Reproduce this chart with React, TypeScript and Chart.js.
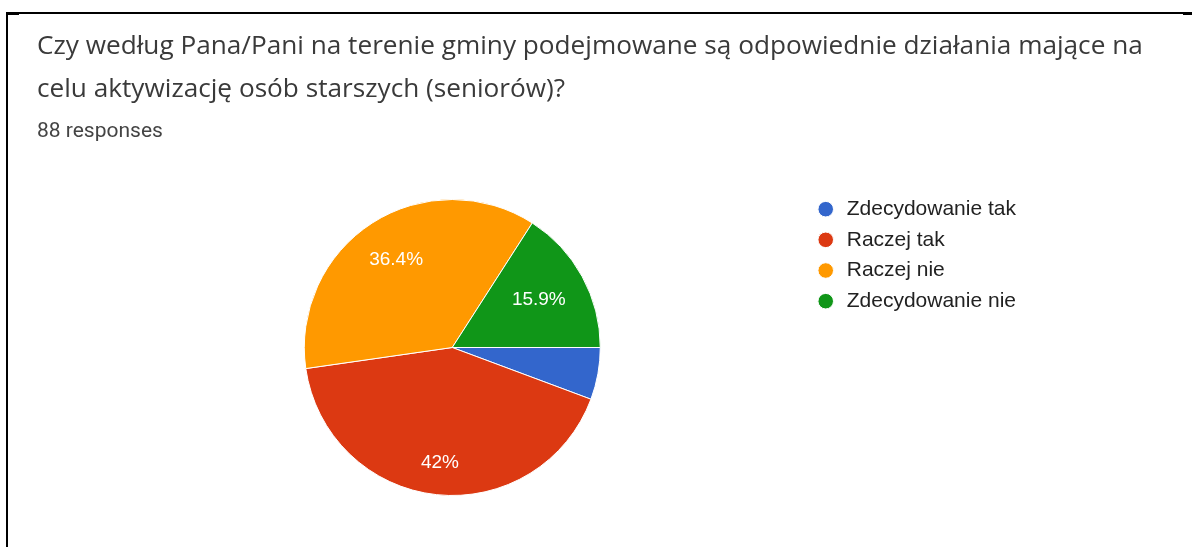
import React, { useEffect, useRef } from "react";
import { Chart, registerables } from "chart.js";

Chart.register(...registerables);

const titleLines = [
  "Czy według Pana/Pani na terenie gminy podejmowane są odpowiednie działania mające na",
  "celu aktywizację osób starszych (seniorów)?",
];
const responsesText = "88 responses";
const categories = ["Zdecydowanie tak", "Raczej tak", "Raczej nie", "Zdecydowanie nie"];
const counts = [5, 37, 32, 14];
const sliceColors = ["#3366cc", "#dc3912", "#ff9900", "#109618"];

// Places each percentage so the outermost corner of its text box sits at a
// fixed fraction of the radius along the slice's middle angle.
const sliceLabels = {
  id: "sliceLabels",
  afterDatasetsDraw(chart: any) {
    const meta = chart.getDatasetMeta(0);
    const data = chart.data.datasets[0].data as number[];
    const total = data.reduce((a, b) => a + b, 0);
    const ctx = chart.ctx as CanvasRenderingContext2D;
    const fontSize = 19;
    ctx.save();
    ctx.font = `${fontSize}px Arial, 'Liberation Sans', sans-serif`;
    ctx.fillStyle = "#ffffff";
    ctx.textAlign = "center";
    ctx.textBaseline = "middle";
    meta.data.forEach((arc: any, i: number) => {
      const pct = (data[i] / total) * 100;
      if (pct < 10) return;
      const { x, y, startAngle, endAngle, outerRadius } = arc.getProps(
        ["x", "y", "startAngle", "endAngle", "outerRadius"],
        true
      );
      const label = `${parseFloat(pct.toFixed(1))}%`;
      const mid = (startAngle + endAngle) / 2;
      const c = Math.cos(mid);
      const s = Math.sin(mid);
      const hw = ctx.measureText(label).width / 2;
      const hh = fontSize * 0.37;
      const R = outerRadius * 0.85;
      const b = Math.abs(c) * hw + Math.abs(s) * hh;
      const d = -b + Math.sqrt(Math.max(b * b - (hw * hw + hh * hh - R * R), 0));
      ctx.fillText(label, x + c * d, y + s * d);
    });
    ctx.restore();
  },
};

export default function App() {
  const canvasRef = useRef<HTMLCanvasElement | null>(null);

  useEffect(() => {
    if (!canvasRef.current) return;
    const chart = new Chart(canvasRef.current, {
      type: "pie",
      data: {
        labels: categories,
        datasets: [
          {
            data: counts,
            backgroundColor: sliceColors,
            borderColor: "#ffffff",
            borderWidth: 1,
            radius: 148,
          } as any,
        ],
      },
      options: {
        responsive: false,
        animation: false,
        rotation: 90,
        layout: { padding: { top: 189, bottom: 41, left: 99, right: 166 } },
        plugins: {
          legend: {
            position: "right",
            align: "start",
            labels: {
              usePointStyle: true,
              pointStyle: "circle",
              boxWidth: 21,
              boxHeight: 11,
              padding: 9.67,
              color: "#222222",
              font: { size: 21, family: "Arial, 'Liberation Sans', sans-serif" },
            },
          },
          tooltip: { enabled: false },
          title: { display: false },
        },
      },
      plugins: [sliceLabels],
    });
    return () => chart.destroy();
  }, []);

  const titleStyle: React.CSSProperties = {
    position: "absolute",
    left: 37,
    fontFamily: "'Open Sans', sans-serif",
    fontSize: 26.2,
    lineHeight: "32px",
    color: "#3a3a3a",
    whiteSpace: "nowrap",
  };

  return (
    <div
      style={{
        position: "fixed",
        left: 0,
        top: 0,
        width: 1192,
        height: 547,
        background: "#ffffff",
        overflow: "hidden",
      }}
    >
      <canvas
        ref={canvasRef}
        width={1192}
        height={547}
        style={{ position: "absolute", left: 0, top: 0, width: 1192, height: 547 }}
      />
      <div
        style={{
          position: "absolute",
          left: 6,
          top: 12,
          right: 0,
          bottom: 0,
          borderTop: "2px solid #000",
          borderLeft: "2px solid #000",
          pointerEvents: "none",
        }}
      />
      <div style={{ position: "absolute", left: 6, top: 12, width: 13, height: 3, background: "#000" }} />
      <div style={{ position: "absolute", left: 1183, top: 12, width: 9, height: 3, background: "#000" }} />
      <div style={{ ...titleStyle, top: 28 }}>{titleLines[0]}</div>
      <div style={{ ...titleStyle, top: 71 }}>{titleLines[1]}</div>
      <div
        style={{
          position: "absolute",
          left: 37,
          top: 118,
          fontFamily: "Roboto, Arial, sans-serif",
          fontSize: 21,
          lineHeight: "24px",
          color: "#444444",
          whiteSpace: "nowrap",
        }}
      >
        {responsesText}
      </div>
    </div>
  );
}
